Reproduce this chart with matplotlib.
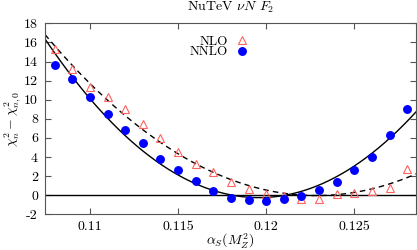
import matplotlib
matplotlib.use("Agg")
import matplotlib.pyplot as plt
import numpy as np

plt.rcParams["font.family"] = "serif"
plt.rcParams["font.serif"] = ["cmr10"]
plt.rcParams["mathtext.fontset"] = "cm"
plt.rcParams["axes.unicode_minus"] = False

alpha_s = np.round(np.arange(0.108, 0.1285, 0.001), 3)
chi2_nlo = [15.28, 13.2, 11.36, 10.3, 9.0, 7.45, 5.95, 4.56, 3.3, 2.4, 1.35,
            0.68, 0.13, -0.1, -0.37, -0.4, 0.13, 0.23, 0.44, 0.75, 2.74]
chi2_nnlo = [13.6, 12.17, 10.25, 8.47, 6.8, 5.5, 3.82, 2.64, 1.49, 0.44, -0.29,
             -0.54, -0.57, -0.43, -0.12, 0.58, 1.41, 2.67, 3.97, 6.3, 9.0]

# points
curve_nlo_x = [0.10745, 0.11397, 0.11425, 0.12087, 0.1219, 0.1225, 0.12568, 0.1285]
curve_nlo_y = [16.77, 5.6, 5.36, 0.09, -0.08, -0.15, 0.89, 2.11]
curve_nnlo_x = [0.10745, 0.1099, 0.11425, 0.1178, 0.1194, 0.1219, 0.1285]
curve_nnlo_y = [16.24, 10.5, 2.98, 0.0, -0.22, 0.33, 8.74]

xmin, xmax = 0.10745, 0.1285

fig = plt.figure(figsize=(4.17, 2.5), dpi=100)
ax = fig.add_axes([45 / 417, 1 - 214.3 / 250, 371 / 417, 191 / 250])

xs = np.linspace(xmin, xmax, 300)
fit_nlo = np.polyfit(curve_nlo_x, curve_nlo_y, 2)
fit_nnlo = np.polyfit(curve_nnlo_x, curve_nnlo_y, 2)
ax.plot(xs, np.polyval(fit_nlo, xs), color="black", linestyle=(0, (4, 3)), linewidth=1.0)
ax.plot(xs, np.polyval(fit_nnlo, xs), color="black", linestyle="-", linewidth=1.0)
ax.axhline(0, color="black", linewidth=1.0)

ax.plot(alpha_s, chi2_nlo, linestyle="none", marker="^", markersize=6,
        markerfacecolor="none", markeredgecolor="#ff6060", markeredgewidth=0.8, label="NLO")
ax.plot(alpha_s, chi2_nnlo, linestyle="none", marker="o", markersize=5.4,
        markerfacecolor="#0000ff", markeredgecolor="#0000ff", label="NNLO")

ax.set_xlim(xmin, xmax)
ax.set_ylim(-2, 18)
ax.set_xticks([0.11, 0.115, 0.12, 0.125])
ax.set_xticklabels(["0.11", "0.115", "0.12", "0.125"])
ax.set_yticks(range(-2, 19, 2))
ax.set_yticklabels([str(v) for v in range(-2, 19, 2)])
ax.tick_params(direction="in", top=True, right=True, labelsize=10, length=4,
               color="#555555", pad=5)
for s in ax.spines.values():
    s.set_color("#555555")

ax.set_xlabel(r"$\alpha_S(M_Z^2)$", fontsize=10, va="center")
ax.xaxis.set_label_coords(0.5, -(240.5 - 214.3) / 191)
ax.set_ylabel(r"$\chi_n^2-\chi_{n,0}^2$", fontsize=10, va="center")
ax.yaxis.set_label_coords(-(45 - 13) / 371, 0.5)
ax.set_title(r"NuTeV $\nu N$ $F_2$", fontsize=10, pad=9)

ax.legend(loc="upper left", bbox_to_anchor=(0.365, 0.985), frameon=False,
          markerfirst=False, fontsize=9.5, handlelength=1.0, handletextpad=0.6,
          labelspacing=-0.12, borderpad=0.2)

fig.savefig("out.png", dpi=100)
